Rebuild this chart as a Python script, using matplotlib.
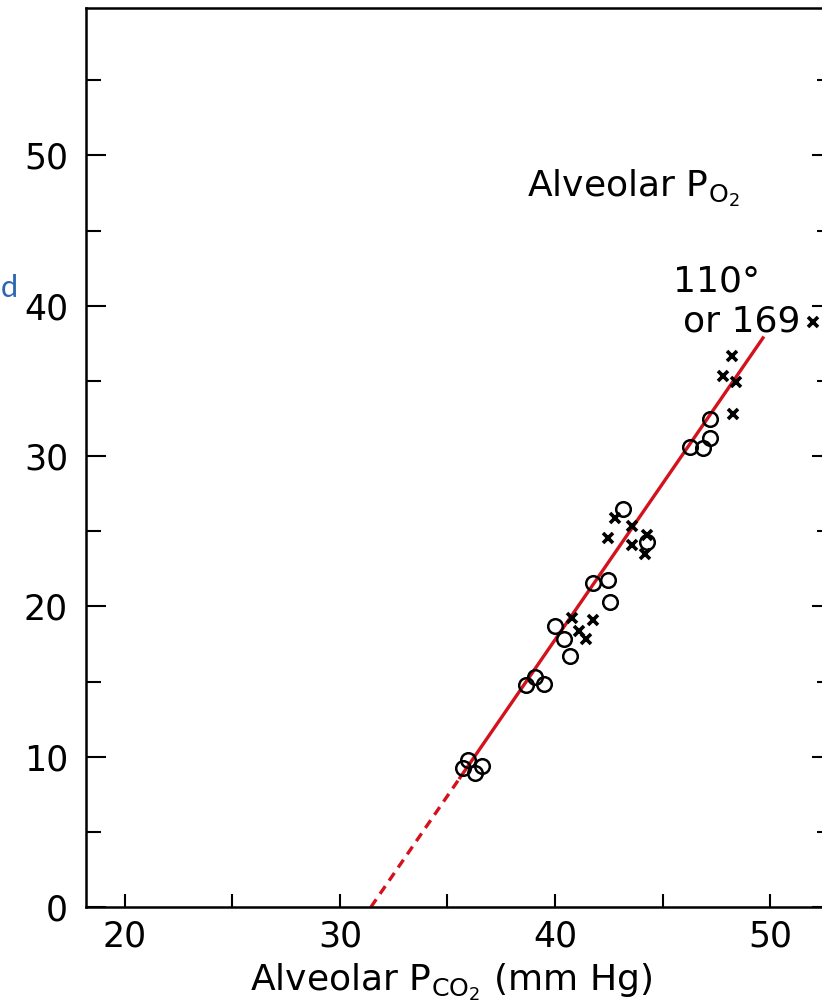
import matplotlib
matplotlib.use("Agg")
import matplotlib.pyplot as plt

plt.rcParams['font.family'] = ['DejaVu Sans']
plt.rcParams['mathtext.default'] = 'regular'

# ---- data ----
circle_x = [35.95, 35.72, 36.60, 36.28, 39.07, 38.65, 39.49, 40.00, 40.42, 40.70,
            41.77, 42.47, 42.56, 43.16, 44.28, 46.28, 46.88, 47.21, 47.21]
circle_y = [9.78, 9.25, 9.38, 8.92, 15.30, 14.77, 14.84, 18.70, 17.83, 16.70,
            21.56, 21.76, 20.29, 26.48, 24.28, 30.61, 30.54, 31.20, 32.47]

cross_x = [40.79, 41.77, 41.12, 41.44, 42.79, 42.47, 43.58, 44.28, 43.58, 44.19,
           48.23, 47.81, 48.42, 48.28]
cross_y = [19.23, 19.10, 18.36, 17.83, 25.87, 24.55, 25.35, 24.75, 24.09, 23.49,
           36.66, 35.33, 34.93, 32.80]

fit_dashed_x = [31.44, 35.58]
fit_dashed_y = [0.0, 8.60]
fit_solid_x = [35.58, 49.67]
fit_solid_y = [8.60, 37.86]

x_major = [20, 30, 40, 50]
x_minor = [25, 35, 45]
y_major = [0, 10, 20, 30, 40, 50]
y_minor = [5, 15, 25, 35, 45, 55]

# ---- figure ----
W, H = 822, 1006
fig = plt.figure(figsize=(W / 100, H / 100), dpi=100)
ax_l, ax_r, ax_t, ax_b = 86, 832, 8, 907
ax = fig.add_axes([ax_l / W, 1 - ax_b / H, (ax_r - ax_l) / W, (ax_b - ax_t) / H])
ax.set_xlim(18.19, 52.88)
ax.set_ylim(0, 59.81)

red = '#d3121c'
ax.plot(fit_dashed_x, fit_dashed_y, color=red, lw=2.4, linestyle=(0, (2.8, 2.0)),
        solid_capstyle='butt', dash_capstyle='butt', zorder=2)
ax.plot(fit_solid_x, fit_solid_y, color=red, lw=2.4, zorder=2)

ax.plot(circle_x, circle_y, linestyle='none', marker='o', ms=10.5,
        mfc='none', mec='black', mew=1.8, zorder=3)
ax.plot(cross_x, cross_y, linestyle='none', marker='x', ms=7,
        mec='black', mew=2.6, zorder=3)

for s in ax.spines.values():
    s.set_linewidth(1.8)

ax.set_xticks(x_major)
ax.set_xticks(x_minor, minor=True)
ax.set_yticks(y_major)
ax.set_yticks(y_minor, minor=True)
ax.tick_params(axis='y', which='both', direction='in', left=True, right=True,
               width=1.5, labelsize=25, pad=13)
ax.tick_params(axis='y', which='major', length=14.4)
ax.tick_params(axis='y', which='minor', length=10.8)
ax.tick_params(axis='x', which='both', direction='in', bottom=True, top=False,
               width=1.5, length=9.4, labelsize=25, pad=9)

ax.set_xlabel(r'Alveolar P$_{CO_{2}}$ (mm Hg)', fontsize=26)
ax.xaxis.set_label_coords((451 - ax_l) / (ax_r - ax_l), (ax_b - 991) / (ax_b - ax_t))
ax.xaxis.label.set_va('baseline')

# annotations
ax.text(38.70, 47.24, r'Alveolar P$_{O_{2}}$', fontsize=26, ha='left', va='baseline')
ax.text(47.49, 40.92, '110°', fontsize=26, ha='center', va='baseline')
ax.text(51.40, 38.26, 'or 169', fontsize=26, ha='right', va='baseline')
ax.plot([52.0], [38.92], linestyle='none', marker='x', ms=7, mec='black',
        mew=2.6, clip_on=False)

# slide text fragment at left edge
fig.text(1 / W, 1 - 297 / H, 'd', fontsize=22, color='#2b67b0', ha='left',
         va='baseline', family=['Lato', 'DejaVu Sans'])

fig.savefig('out.png', dpi=100)
